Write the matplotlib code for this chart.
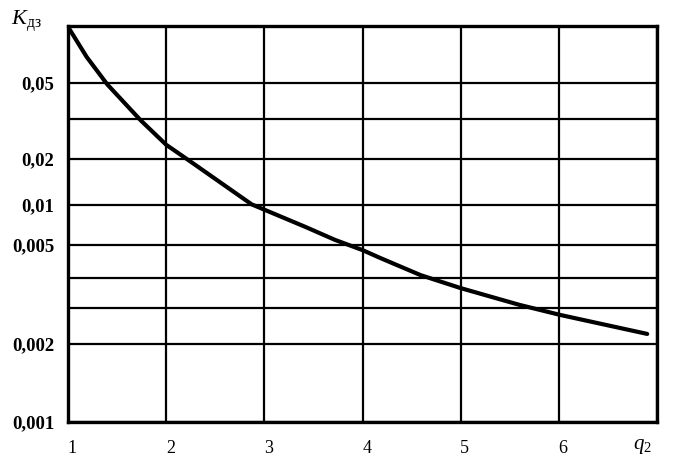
"""
Coefficient K_dz versus q2, redrawn from a scanned reference chart.
Saved as out.png.
"""

import matplotlib
matplotlib.use("Agg")
import matplotlib.pyplot as plt
import matplotlib.transforms as mtransforms
import numpy as np


plt.rcParams.update({
    "font.family": ["Liberation Serif", "DejaVu Serif"],
    "mathtext.fontset": "custom",
    "mathtext.rm": "Liberation Serif",
    "mathtext.it": "Liberation Serif:italic",
    "mathtext.bf": "Liberation Serif:bold",
})

# curve
q2 = [1.0, 1.19, 1.40, 1.74, 2.0, 2.27, 2.87, 3.42, 3.72, 4.0, 4.18,
      4.59, 5.0, 5.6, 6.02, 6.9]
k_dz = [0.099, 0.0686, 0.049, 0.0296, 0.0231, 0.0188, 0.0101, 0.00683,
        0.00546, 0.00483, 0.00458, 0.00408, 0.00363, 0.00309, 0.00277,
        0.00224]

# grid levels of the y axis and their labels ("" = unlabelled line)
y_levels = [0.001, 0.002, 0.003, 0.004, 0.005, 0.01, 0.02, 0.03, 0.05, 0.1]
y_labels = ["0,001", "0,002", "", "", "0,005", "0,01", "0,02", "", "0,05", ""]
x_ticks = [1, 2, 3, 4, 5, 6, 7]
x_labels = ["1", "2", "3", "4", "5", "6", ""]

# the printed scale is not a true log scale: drawn height of each grid level
level_height = [0, 78, 114, 144, 177, 217, 263, 303, 339, 396]
_log_levels = np.log10(y_levels)


def _forward(y):
    y = np.clip(np.asarray(y, dtype=float), 1e-6, None)
    return np.interp(np.log10(y), _log_levels, level_height)


def _inverse(p):
    return 10.0 ** np.interp(np.asarray(p, dtype=float), level_height, _log_levels)


fig = plt.figure(figsize=(6.81, 4.65), dpi=100)
ax = fig.add_axes([0.0999, 0.0925, 0.8649, 0.8516])

ax.set_yscale("function", functions=(_forward, _inverse))
ax.set_xlim(1, 7)
ax.set_ylim(0.001, 0.1)

ax.set_yticks(y_levels)
ax.set_yticklabels(y_labels, fontsize=13.5, fontweight="bold")
ax.yaxis.set_minor_locator(matplotlib.ticker.NullLocator())
ax.set_xticks(x_ticks)
ax.set_xticklabels(x_labels, fontsize=13)
ax.tick_params(axis="y", length=0, pad=10)
ax.tick_params(axis="x", length=0, pad=13)

# printed x labels sit a little to the right of their grid lines
shift = mtransforms.ScaledTranslation(3 / 72, 0, fig.dpi_scale_trans)
for lab in ax.get_xticklabels():
    lab.set_transform(lab.get_transform() + shift)

ax.grid(True, color="black", lw=1.6)
for spine in ax.spines.values():
    spine.set_linewidth(2.4)

ax.plot(q2, k_dz, color="black", lw=3.0, solid_capstyle="round",
        solid_joinstyle="round", zorder=3)

ax.text(-0.07, 1.012, r"$K_{\mathrm{дз}}$", transform=ax.transAxes,
        fontsize=16, ha="center", va="center")
ax.text(0.976, -0.063, r"$q_2$", transform=ax.transAxes,
        fontsize=15, ha="center", va="center")

fig.savefig("out.png", dpi=100)
